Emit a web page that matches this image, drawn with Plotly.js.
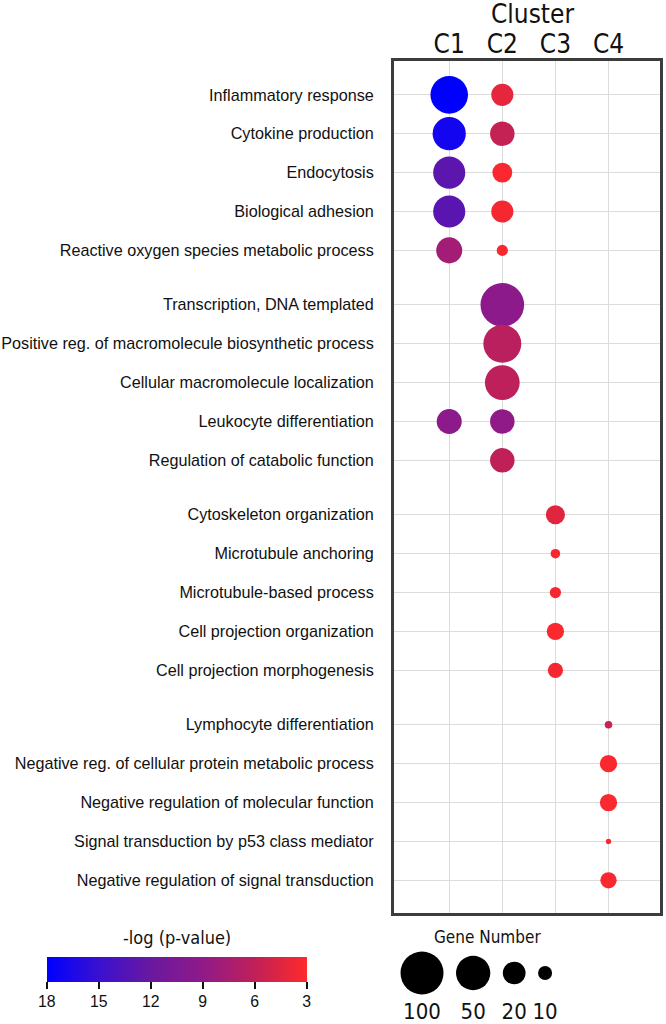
<!DOCTYPE html>
<html>
<head>
<meta charset="utf-8">
<script src="https://cdn.plot.ly/plotly-3.0.1.min.js"></script>
<style>html,body{margin:0;padding:0;background:#fff;}#chart{width:666px;height:1024px;}</style>
</head>
<body>
<div id="chart"></div>
<script>
// ---------------- DATA ----------------
const terms = [
  "Inflammatory response",
  "Cytokine production",
  "Endocytosis",
  "Biological adhesion",
  "Reactive oxygen species metabolic process",
  "Transcription, DNA templated",
  "Positive reg. of macromolecule biosynthetic process",
  "Cellular macromolecule localization",
  "Leukocyte differentiation",
  "Regulation of catabolic function",
  "Cytoskeleton organization",
  "Microtubule anchoring",
  "Microtubule-based process",
  "Cell projection organization",
  "Cell projection morphogenesis",
  "Lymphocyte differentiation",
  "Negative reg. of cellular protein metabolic process",
  "Negative regulation of molecular function",
  "Signal transduction by p53 class mediator",
  "Negative regulation of signal transduction"
];
const termGroup = [0,0,0,0,0, 1,1,1,1,1, 2,2,2,2,2, 3,3,3,3,3];
const clusters = ["C1","C2","C3","C4"];
const N = null;
// gene number per term, per cluster (null = not enriched)
const genesC1 = [65,46,42,42,26, N,N,N,24,N, N,N,N,N,N, N,N,N,N,N];
const genesC2 = [19,23,16,19,8, 105,67,52,23,23, N,N,N,N,N, N,N,N,N,N];
const genesC3 = [N,N,N,N,N, N,N,N,N,N, 15,7,8,13,11, N,N,N,N,N];
const genesC4 = [N,N,N,N,N, N,N,N,N,N, N,N,N,N,N, 6,13,13,5,12];
// -log(p-value) per term, per cluster
const logpC1 = [18,17,12.8,13,7.8, N,N,N,9.2,N, N,N,N,N,N, N,N,N,N,N];
const logpC2 = [4.2,5.8,3.3,3.5,3.3, 9.2,6.4,6.2,9,6, N,N,N,N,N, N,N,N,N,N];
const logpC3 = [N,N,N,N,N, N,N,N,N,N, 4.5,3.5,3.5,3.3,3.5, N,N,N,N,N];
const logpC4 = [N,N,N,N,N, N,N,N,N,N, N,N,N,N,N, 5.5,3.3,3.3,3.3,3.3];
const legendGenes = [100,50,20,10];
const cbarTicks = [18,15,12,9,6,3];

// ---------------- FONTS ----------------
function hasFont(name){
  const c=document.createElement('canvas').getContext('2d');
  const t='abcdefghijklmnopqrstuvwxyzABCDEFGHIJ0123456789';
  c.font='40px monospace'; const w1=c.measureText(t).width;
  c.font='40px "'+name+'", monospace'; const w2=c.measureText(t).width;
  return Math.abs(w1-w2)>0.5;
}
const hasNarrow = hasFont('Liberation Sans Narrow');
const hasCond = hasFont('DejaVu Sans Condensed');
function narrow(sz){ return hasNarrow ? {family:'"Liberation Sans Narrow"', size:sz, color:'#111'} : {family:'"Liberation Sans", Arial', size:Math.round(sz*0.83*10)/10, color:'#111'}; }
function cond(sz){ return hasCond ? {family:'"DejaVu Sans Condensed"', size:sz, color:'#111'} : {family:'"DejaVu Sans"', size:Math.round(sz*0.9*10)/10, color:'#111'}; }

// ---------------- MAPPINGS ----------------
const groupGap = 0.4;
const rowPos = terms.map((t,i)=> i + termGroup[i]*groupGap);
function diam(n){ return 12.6*Math.log(n) - 15; }

const xs=[], ys=[], sz=[], col=[], txt=[];
[genesC1,genesC2,genesC3,genesC4].forEach((g,ci)=>{
  const lp=[logpC1,logpC2,logpC3,logpC4][ci];
  g.forEach((n,i)=>{
    if(n===null) return;
    xs.push(ci+1); ys.push(rowPos[i]); sz.push(diam(n)); col.push(-lp[i]);
    txt.push(terms[i]+' / '+clusters[ci]+': '+n+' genes, -log p = '+lp[i]);
  });
});

const colorscale = [[0,'#0000ff'],[0.2,'#3a10d0'],[0.4,'#6a18a0'],[0.6,'#901a88'],[0.8,'#c02058'],[1,'#ff2a2a']];

const H=1024, W=666, L=394, R=6, T=61, plotBottom=913;
const paperH = H-T, paperW = W-L-R;
const px2x = v => (v-L)/paperW;      // page px -> paper x
const px2y = v => (H-v)/paperH;      // page px -> paper y

const main = {
  type:'scatter', mode:'markers', x:xs, y:ys, text:txt, hoverinfo:'text',
  marker:{size:sz, sizemode:'diameter', color:col, cmin:-18, cmax:-3, colorscale:colorscale, opacity:1, line:{width:0},
    colorbar:{orientation:'h', x:px2x(176.7), xanchor:'center',
      y:px2y(957), yanchor:'top', len:260, lenmode:'pixels', thickness:25, thicknessmode:'pixels',
      xpad:0, ypad:0, outlinewidth:0, tickmode:'array', tickvals:cbarTicks.map(v=>-v), ticktext:cbarTicks.map(String),
      ticks:'outside', ticklen:7, tickwidth:2, tickcolor:'#111', tickfont:narrow(19), title:{text:''}}
  },
  showlegend:false, xaxis:'x', yaxis:'y'
};

// size legend positions, packed with constant gap
const legDiam = legendGenes.map(diam);
const legX=[]; let p=6.5; legDiam.forEach(d=>{ legX.push(p+d/2); p+=d+12.5; });
const sizeLegend = {type:'scatter', mode:'markers', x:legX, y:legendGenes.map(()=>1),
  marker:{size:legDiam, sizemode:'diameter', color:'#000', opacity:1, line:{width:0}}, hoverinfo:'skip', showlegend:false, xaxis:'x2', yaxis:'y2'};
const sizeLabels = {type:'scatter', mode:'text', x:legX, y:legendGenes.map(()=>0), text:legendGenes.map(String),
  textfont:cond(22), textposition:'middle center', hoverinfo:'skip', showlegend:false, xaxis:'x2', yaxis:'y2'};

const layout = {
  width:W, height:H, paper_bgcolor:'#fff', plot_bgcolor:'#fff',
  margin:{l:L, r:R, t:T, b:0, pad:0, autoexpand:false},
  xaxis:{domain:[0,1], range:[-0.04,4.97], side:'top', tickmode:'array', tickvals:[1,2,3,4], ticktext:clusters,
    tickfont:cond(26), ticks:'', ticklabelstandoff:-5, showgrid:true, gridcolor:'#dcdcdc', gridwidth:1, zeroline:false,
    showline:true, mirror:true, linecolor:'#3c3c3c', linewidth:3, anchor:'y', automargin:false, fixedrange:true},
  yaxis:{domain:[px2y(plotBottom),1], range:[rowPos[rowPos.length-1]+0.84,-0.87], tickmode:'array', tickvals:rowPos, ticktext:terms,
    tickfont:narrow(19.5), ticks:'', showgrid:true, gridcolor:'#dcdcdc', gridwidth:1, zeroline:false,
    showline:true, mirror:true, linecolor:'#3c3c3c', linewidth:3, anchor:'x', ticklabelstandoff:14, automargin:false, fixedrange:true},
  xaxis2:{domain:[0,1], range:[0,paperW], visible:false, anchor:'y2', fixedrange:true},
  yaxis2:{domain:[0,px2y(950)], range:[-0.275,1.575], visible:false, anchor:'x2', fixedrange:true},
  annotations:[
    {xref:'paper', yref:'paper', x:px2x(532), y:px2y(14), text:'Cluster', showarrow:false, font:cond(26), xanchor:'center', yanchor:'middle'},
    {xref:'paper', yref:'paper', x:px2x(487), y:px2y(937), text:'Gene Number', showarrow:false, font:cond(17), xanchor:'center', yanchor:'middle'},
    {xref:'paper', yref:'paper', x:px2x(176.7), y:px2y(937), text:'-log (p-value)', showarrow:false, font:cond(18), xanchor:'center', yanchor:'middle'}
  ]
};

Plotly.newPlot('chart',[main,sizeLegend,sizeLabels],layout,{displayModeBar:false, staticPlot:true});
</script>
</body>
</html>
